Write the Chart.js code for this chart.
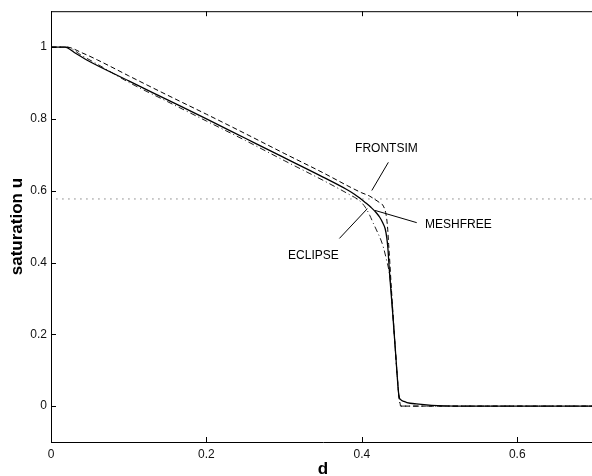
<!DOCTYPE html>
<html>
<head>
<meta charset="utf-8">
<script src="https://cdn.jsdelivr.net/npm/chart.js@4/dist/chart.umd.min.js"></script>
<style>
  html, body { margin: 0; padding: 0; background: #fff; overflow: hidden; }
  #wrap { width: 600px; height: 480px; position: relative; }
</style>
</head>
<body>
<div id="wrap"><canvas id="chart"></canvas></div>
<script>
// axis ticks
const xTicks = [0, 0.2, 0.4, 0.6];
const yTicks = [0, 0.2, 0.4, 0.6, 0.8, 1];

// MESHFREE (solid)
const meshX = [0, 0.018, 0.03, 0.046, 0.1, 0.15, 0.2, 0.25, 0.3, 0.35, 0.38, 0.39, 0.398, 0.405, 0.412, 0.418, 0.423, 0.427, 0.43, 0.432, 0.4335, 0.4347, 0.436, 0.44, 0.444, 0.4476, 0.45, 0.454, 0.458, 0.47, 0.49, 0.52, 0.7];
const meshU = [1, 1, 0.985, 0.964, 0.906, 0.853, 0.8, 0.746, 0.692, 0.638, 0.604, 0.591, 0.578, 0.566, 0.553, 0.54, 0.526, 0.51, 0.494, 0.47, 0.44, 0.4, 0.36, 0.25, 0.13, 0.03, 0.018, 0.013, 0.01, 0.006, 0.002, 0, 0];

// FRONTSIM (dashed)
const frontX = [0, 0.02, 0.04, 0.06, 0.1, 0.15, 0.2, 0.25, 0.3, 0.35, 0.385, 0.4, 0.41, 0.4165, 0.422, 0.4277, 0.431, 0.433, 0.4345, 0.436, 0.4375, 0.44, 0.443, 0.446, 0.4475, 0.449, 0.45, 0.7];
const frontU = [1, 1, 0.984, 0.964, 0.92, 0.866, 0.813, 0.759, 0.704, 0.65, 0.61, 0.594, 0.585, 0.576, 0.568, 0.557, 0.535, 0.5, 0.45, 0.4, 0.345, 0.26, 0.16, 0.07, 0.03, 0.01, 0, 0];

// ECLIPSE (dash-dot)
const eclX = [0, 0.02, 0.04, 0.06, 0.1, 0.15, 0.2, 0.25, 0.3, 0.35, 0.37, 0.385, 0.394, 0.4, 0.405, 0.41, 0.415, 0.42, 0.425, 0.428, 0.432, 0.435, 0.437, 0.44, 0.443, 0.446, 0.448, 0.45, 0.7];
const eclU = [1, 1, 0.976, 0.952, 0.902, 0.848, 0.794, 0.74, 0.684, 0.629, 0.606, 0.588, 0.577, 0.566, 0.552, 0.532, 0.508, 0.485, 0.46, 0.44, 0.405, 0.375, 0.34, 0.25, 0.16, 0.07, 0.02, 0, 0];

// dotted reference level
const refX = [0.007, 0.7];
const refU = [0.577, 0.577];

// annotation labels and leader lines
const noteText = ['FRONTSIM', 'MESHFREE', 'ECLIPSE'];
const noteX = [0.3913, 0.4813, 0.3051];
const noteU = [0.718, 0.506, 0.419];
const leadX = [[0.4341, 0.4128], [0.417, 0.4706], [0.3711, 0.4071]];
const leadU = [[0.679, 0.6006], [0.545, 0.511], [0.467, 0.55]];

const pts = (xs, ys) => xs.map((x, i) => ({x: x, y: ys[i]}));

const lineSet = (data, dash, width) => ({
    data: data,
    borderColor: '#000',
    borderWidth: width,
    borderDash: dash,
    pointRadius: 0,
    fill: false,
    cubicInterpolationMode: 'monotone'
});

const datasets = [
    lineSet(pts(frontX, frontU), [5, 3], 1),
    lineSet(pts(eclX, eclU), [6, 3, 1, 3], 0.9),
    lineSet(pts(meshX, meshU), [], 1.3),
    Object.assign(lineSet(pts(refX, refU), [1, 5], 1), {borderColor: '#444', cubicInterpolationMode: 'default', tension: 0})
];
leadX.forEach((xs, i) => {
    datasets.push(Object.assign(lineSet(pts(xs, leadU[i]), [], 1), {cubicInterpolationMode: 'default', tension: 0}));
});

// Matlab style frame: top border and inward ticks
const framePlugin = {
    id: 'frame',
    afterDraw(chart) {
        const {ctx, chartArea, scales} = chart;
        ctx.save();
        ctx.strokeStyle = '#000';
        ctx.lineWidth = 1;
        ctx.beginPath();
        ctx.moveTo(chartArea.left, chartArea.top + 0.5);
        ctx.lineTo(chartArea.right + 10, chartArea.top + 0.5);
        xTicks.forEach(v => {
            const px = Math.round(scales.x.getPixelForValue(v)) + 0.5;
            ctx.moveTo(px, chartArea.bottom);
            ctx.lineTo(px, chartArea.bottom - 5);
            ctx.moveTo(px, chartArea.top);
            ctx.lineTo(px, chartArea.top + 5);
        });
        yTicks.forEach(v => {
            const py = Math.round(scales.y.getPixelForValue(v)) + 0.5;
            ctx.moveTo(chartArea.left, py);
            ctx.lineTo(chartArea.left + 5, py);
        });
        ctx.stroke();

        ctx.fillStyle = '#000';
        ctx.font = '12px "Liberation Sans", Arial, sans-serif';
        ctx.textAlign = 'left';
        ctx.textBaseline = 'middle';
        noteText.forEach((t, i) => {
            ctx.fillText(t, scales.x.getPixelForValue(noteX[i]), scales.y.getPixelForValue(noteU[i]));
        });
        ctx.restore();
    }
};

new Chart('chart', {
    type: 'line',
    data: {datasets: datasets},
    options: {
        responsive: true,
        maintainAspectRatio: false,
        animation: false,
        events: [],
        layout: {padding: {top: 7.5, right: 5, left: 0, bottom: 0}},
        plugins: {legend: {display: false}, tooltip: {enabled: false}},
        scales: {
            x: {
                type: 'linear',
                min: 0,
                max: 0.7,
                afterBuildTicks: s => { s.ticks = xTicks.map(v => ({value: v})); },
                afterFit: s => { s.height = 38; },
                grid: {display: false, drawTicks: false},
                border: {display: true, color: '#000', width: 1},
                ticks: {
                    padding: 5,
                    color: '#111',
                    font: {family: '"Liberation Sans", Arial, sans-serif', size: 12},
                    maxRotation: 0,
                    callback: v => String(v)
                },
                title: {
                    display: true,
                    text: 'd',
                    color: '#000',
                    padding: {top: 0, bottom: 2},
                    font: {family: '"Liberation Sans", Arial, sans-serif', size: 17, weight: 'bold', lineHeight: 1}
                }
            },
            y: {
                type: 'linear',
                min: -0.1,
                max: 1.1,
                afterBuildTicks: s => { s.ticks = yTicks.map(v => ({value: v})); },
                afterFit: s => { s.width = 51; },
                grid: {display: false, drawTicks: false},
                border: {display: true, color: '#000', width: 1},
                ticks: {
                    padding: 4,
                    color: '#111',
                    font: {family: '"Liberation Sans", Arial, sans-serif', size: 12},
                    callback: v => String(v)
                },
                title: {
                    display: true,
                    text: 'saturation u',
                    color: '#000',
                    padding: {top: 8.5, bottom: 0},
                    font: {family: '"Liberation Sans", Arial, sans-serif', size: 17, weight: 'bold', lineHeight: 1}
                }
            }
        }
    },
    plugins: [framePlugin]
});
</script>
</body>
</html>
